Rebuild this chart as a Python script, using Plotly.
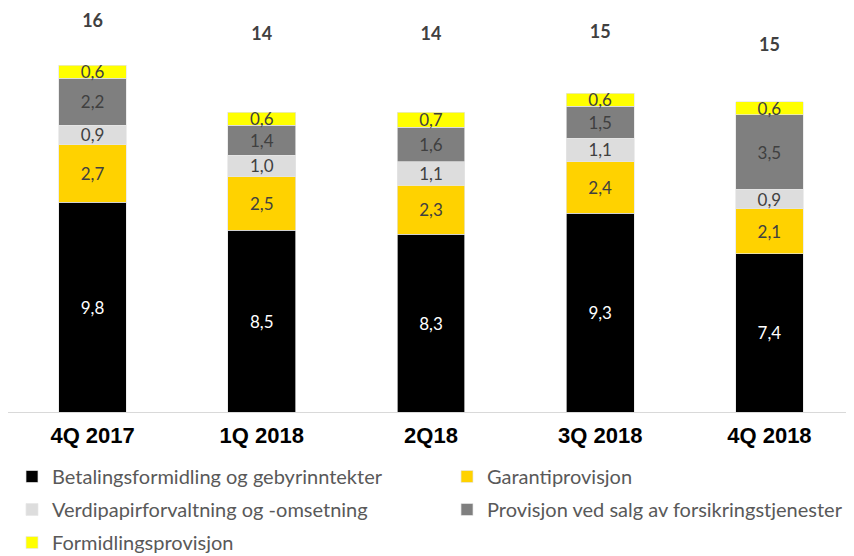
import plotly.graph_objects as go

categories = ["4Q 2017", "1Q 2018", "2Q18", "3Q 2018", "4Q 2018"]
betaling = [9.8, 8.5, 8.3, 9.3, 7.4]
garanti = [2.7, 2.5, 2.3, 2.4, 2.1]
verdipapir = [0.9, 1.0, 1.1, 1.1, 0.9]
forsikring = [2.2, 1.4, 1.6, 1.5, 3.5]
formidling = [0.6, 0.6, 0.7, 0.6, 0.6]
totals = ["16", "14", "14", "15", "15"]
total_label_y = [18.2, 17.6, 17.6, 17.7, 17.1]

series = [
    ("Betalingsformidling og gebyrinntekter", betaling, "#000000", "#FFFFFF", "legend", 1),
    ("Garantiprovisjon", garanti, "#FFD200", "#404040", "legend2", 1),
    ("Verdipapirforvaltning og -omsetning", verdipapir, "#DDDDDD", "#404040", "legend", 2),
    ("Provisjon ved salg av forsikringstjenester", forsikring, "#7F7F7F", "#404040", "legend2", 2),
    ("Formidlingsprovisjon", formidling, "#FFFF00", "#404040", "legend", 3),
]

def fmt(v):
    return f"{v:.1f}".replace(".", ",")

fig = go.Figure()
for name, vals, color, tcolor, leg, rank in series:
    fig.add_trace(go.Bar(
        x=categories, y=vals, name=name, legend=leg,
        legendgroup=name, legendrank=rank,
        marker=dict(color=color, line=dict(color="#E6E6E6", width=0.7)),
        text=[fmt(v) for v in vals], textposition="inside",
        insidetextanchor="middle", textangle=0,
        textfont=dict(family="Lato", size=17, color=tcolor),
        hoverinfo="skip",
    ))

fig.add_trace(go.Scatter(
    x=categories, y=total_label_y, mode="text", text=totals,
    textfont=dict(family="Lato", size=18, color="#404040", weight="bold"),
    showlegend=False, hoverinfo="skip",
))

W, H = 846, 548
legend_font = dict(family="Lato", size=20, color="#595959")
fig.update_layout(
    width=W, height=H,
    barmode="stack", bargap=0.6,
    margin=dict(l=0, r=0, t=0, b=144, autoexpand=False),
    plot_bgcolor="white", paper_bgcolor="white",
    uniformtext=dict(minsize=17, mode="show"),
    showlegend=True,
    legend=dict(
        orientation="v", xref="container", yref="container",
        x=4 / W, xanchor="left", y=1 - 449 / H, yanchor="top",
        font=legend_font, tracegroupgap=4, traceorder="grouped",
    ),
    legend2=dict(
        orientation="v", xref="container", yref="container",
        x=439 / W, xanchor="left", y=1 - 449 / H, yanchor="top",
        font=legend_font, tracegroupgap=4, traceorder="grouped",
    ),
    xaxis=dict(
        showline=True, linecolor="#D9D9D9", linewidth=1,
        ticks="", showgrid=False,
        tickfont=dict(family="Liberation Sans", size=22, color="#000000", weight="bold"),
        ticklabelstandoff=4,
    ),
    yaxis=dict(range=[0, 18.88], visible=False, showgrid=False),
)

fig.write_html("out.html")
